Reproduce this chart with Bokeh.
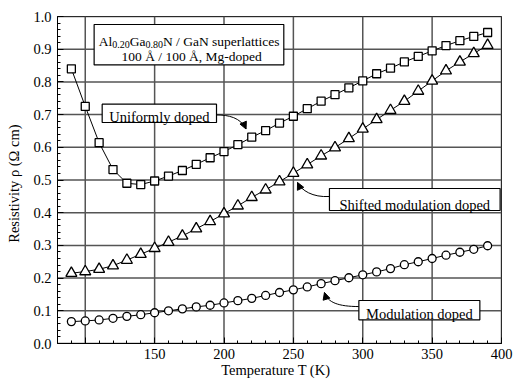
from bokeh.plotting import figure
from bokeh.models import (Range1d, FixedTicker, NumeralTickFormatter, BoxAnnotation,
                          Label, Arrow, NormalHead)
from bokeh.embed import file_html
from bokeh.resources import INLINE

# ---------------- data ----------------
temps = [90, 100, 110, 120, 130, 140, 150, 160, 170, 180, 190, 200, 210, 220, 230,
         240, 250, 260, 270, 280, 290, 300, 310, 320, 330, 340, 350, 360, 370, 380, 390]
uniform = [0.840, 0.725, 0.614, 0.532, 0.490, 0.486, 0.497, 0.512, 0.529, 0.548, 0.568,
           0.587, 0.608, 0.631, 0.651, 0.674, 0.695, 0.718, 0.741, 0.761, 0.782, 0.803,
           0.825, 0.842, 0.861, 0.878, 0.895, 0.911, 0.926, 0.939, 0.951]
shifted = [0.215, 0.220, 0.227, 0.238, 0.255, 0.273, 0.291, 0.310, 0.329, 0.351, 0.373,
           0.397, 0.421, 0.447, 0.470, 0.495, 0.521, 0.547, 0.574, 0.599, 0.627, 0.656,
           0.685, 0.713, 0.741, 0.772, 0.803, 0.834, 0.861, 0.887, 0.912]
modulation = [0.067, 0.069, 0.072, 0.077, 0.083, 0.088, 0.094, 0.100, 0.106, 0.112, 0.117,
              0.124, 0.131, 0.138, 0.147, 0.156, 0.164, 0.173, 0.183, 0.192, 0.201, 0.210,
              0.219, 0.229, 0.241, 0.250, 0.260, 0.270, 0.279, 0.288, 0.299]

x_major = [100, 150, 200, 250, 300, 350, 400]
x_minor = [90, 110, 120, 130, 140, 160, 170, 180, 190, 210, 220, 230, 240, 260, 270, 280,
           290, 310, 320, 330, 340, 360, 370, 380, 390]
y_major = [0.0, 0.1, 0.2, 0.3, 0.4, 0.5, 0.6, 0.7, 0.8, 0.9, 1.0]
y_minor = [0.02, 0.04, 0.06, 0.08, 0.12, 0.14, 0.16, 0.18, 0.22, 0.24, 0.26, 0.28,
           0.32, 0.34, 0.36, 0.38, 0.42, 0.44, 0.46, 0.48, 0.52, 0.54, 0.56, 0.58,
           0.62, 0.64, 0.66, 0.68, 0.72, 0.74, 0.76, 0.78, 0.82, 0.84, 0.86, 0.88,
           0.92, 0.94, 0.96, 0.98]

FONT = "Liberation Serif"
GRID = "#555555"
X_LO, X_HI, Y_LO, Y_HI = 80, 400, 0.0, 1.0

p = figure(width=513, height=380, output_backend="svg", toolbar_location=None,
           x_range=Range1d(X_LO, X_HI), y_range=Range1d(Y_LO, Y_HI),
           min_border_left=57, min_border_right=12, min_border_top=16,
           min_border_bottom=37)
p.outline_line_color = "black"
p.outline_line_width = 1
p.background_fill_color = "white"
p.border_fill_color = "white"

xt = FixedTicker(ticks=x_major, minor_ticks=x_minor)
yt = FixedTicker(ticks=y_major, minor_ticks=y_minor)
p.xaxis.ticker = xt
p.yaxis.ticker = yt
p.xaxis.major_label_overrides = {100: ""}
p.yaxis.formatter = NumeralTickFormatter(format="0.0")
p.xgrid.visible = False
p.ygrid.visible = False

# grid lines at the major tick positions, drawn beneath the series
p.segment(x0=x_major, y0=[Y_LO] * len(x_major), x1=x_major, y1=[Y_HI] * len(x_major),
          line_color=GRID, line_width=1.5)
p.segment(x0=[X_LO] * len(y_major), y0=y_major, x1=[X_HI] * len(y_major), y1=y_major,
          line_color=GRID, line_width=1.5)

for ax in (p.xaxis, p.yaxis):
    ax.axis_line_color = "black"
    ax.major_tick_in = 6
    ax.major_tick_out = 0
    ax.minor_tick_in = 3
    ax.minor_tick_out = 0
    ax.major_tick_line_color = "black"
    ax.minor_tick_line_color = "black"
    ax.major_label_text_font = FONT
    ax.major_label_text_font_size = "14.5px"
    ax.major_label_text_color = "black"
    ax.axis_label_text_font = FONT
    ax.axis_label_text_font_size = "14.5px"
    ax.axis_label_text_font_style = "normal"
    ax.axis_label_text_color = "black"

p.xaxis.major_label_standoff = 5
p.xaxis.axis_label = "Temperature  T  (K)"
p.xaxis.axis_label_standoff = 0
p.yaxis.major_label_standoff = 6
p.yaxis.axis_label = "Resistivity  ρ  (Ω cm)"
p.yaxis.axis_label_standoff = 8

# ---------------- series ----------------
p.line(temps, uniform, line_color="black", line_width=1)
p.line(temps, shifted, line_color="black", line_width=1)
p.line(temps, modulation, line_color="black", line_width=1)
p.scatter(temps, uniform, marker="square", size=8, fill_color="white",
          line_color="black", line_width=1.3)
p.scatter(temps, shifted, marker="triangle", size=11, fill_color="white",
          line_color="black", line_width=1.3)
p.scatter(temps, modulation, marker="circle", size=8, fill_color="white",
          line_color="black", line_width=1.3)

# ---------------- annotations ----------------
p.bezier(x0=[194.6, 276.0, 297.2], y0=[0.699, 0.4495, 0.113],
         cx0=[203.2, 263.8, 282.5], cy0=[0.699, 0.4465, 0.113],
         cx1=[211.9, 255.9, 274.6], cy1=[0.691, 0.4679, 0.1254],
         x1=[215.9, 253.0, 272.4], y1=[0.656, 0.4924, 0.156],
         line_color="black", line_width=1)
for xs, ys, xe, ye in [(214.1, 0.6728, 215.9, 0.656),
                       (254.4, 0.480, 253.0, 0.4924),
                       (273.5, 0.1407, 272.4, 0.156)]:
    p.add_layout(Arrow(end=NormalHead(size=7, fill_color="black", line_color="black",
                                      line_width=1),
                       x_start=xs, y_start=ys, x_end=xe, y_end=ye,
                       line_color="black", line_width=1))

def box(l, r, t, b):
    p.add_layout(BoxAnnotation(left=l, right=r, top=t, bottom=b, fill_color="white",
                               fill_alpha=1, line_color="black", line_width=1.2,
                               line_alpha=1))

def lab(x, y, text, size="14.5px", align="left", style="normal"):
    p.add_layout(Label(x=x, y=y, text=text, text_font=FONT, text_font_size=size,
                       text_align=align, text_baseline="alphabetic",
                       text_font_style=style, text_color="black"))

box(106.4, 243.1, 0.9755, 0.852)
lab(109.8, 0.9235, "Al", "13.5px")
lab(119.5, 0.9144, "0.20", "10px")
lab(132.1, 0.9235, "Ga", "13.5px")
lab(143.4, 0.9144, "0.80", "10px")
lab(156.0, 0.9235, "N / GaN superlattices", "13.5px")
lab(176.7, 0.8767, "100 Å / 100 Å, Mg-doped", "13.5px", align="center")

box(112.2, 194.6, 0.7318, 0.6758)
lab(153.4, 0.6927, "Uniformly doped", align="center")

box(276.0, 399.0, 0.474, 0.4067)
lab(337.5, 0.425, "Shifted modulation doped", align="center")

box(297.2, 384.4, 0.1315, 0.0725)
lab(340.8, 0.0887, "Modulation doped", align="center")

open("out.html", "w").write(file_html(p, INLINE))
